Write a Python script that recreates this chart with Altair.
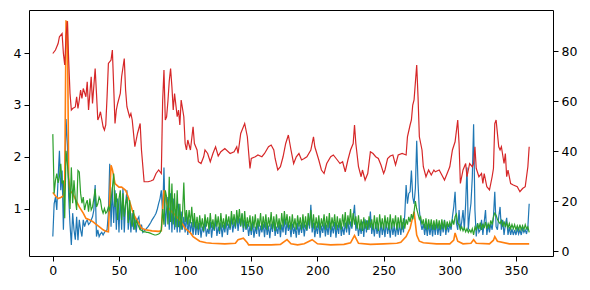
import altair as alt
import pandas as pd

# ---- data ----
x_ticks = [0, 50, 100, 150, 200, 250, 300, 350]
left_ticks = [1, 2, 3, 4]
right_ticks = [0, 20, 40, 60, 80]

blue = [
    0.47, 1.1, 1.23, 0.98, 1.6, 2.12, 1.36, 1.74, 0.6, 1.6,
    2.73, 2.25, 1.23, 0.7, 0.31, 0.92, 0.6, 0.41, 0.85, 0.4,
    0.79, 0.6, 0.47, 0.79, 0.66, 0.75, 0.79, 0.7, 0.73, 0.79,
    0.85, 0.98, 1.46, 0.47, 0.6, 0.47, 0.52, 0.55, 0.5, 0.55,
    0.58, 0.6, 0.92, 1.87, 0.66, 1.42, 0.73, 1.36, 0.6, 1.2,
    0.55, 1.3, 0.6, 1.4, 0.55, 1.1, 1.36, 0.6, 1.0, 0.55,
    0.92, 0.6, 0.85, 0.55, 0.8, 0.85, 0.6, 0.7, 0.55, 0.58,
    0.6, 0.63, 0.66, 0.7, 0.74, 0.79, 0.83, 0.87, 0.92, 1.0,
    1.11, 1.2, 1.36, 0.9, 1.8, 0.66, 1.0, 1.23, 0.6, 1.3,
    0.55, 1.2, 0.6, 1.0, 0.55, 1.1, 0.55, 0.95, 0.6, 0.85,
    0.55, 0.9, 0.5, 0.8, 0.55, 0.75, 0.5, 0.8, 0.5, 0.72,
    0.5, 0.74, 0.45, 0.66, 0.55, 0.78, 0.47, 0.62, 0.52, 0.76,
    0.45, 0.7, 0.58, 0.8, 0.48, 0.66, 0.52, 0.74, 0.46, 0.7,
    0.55, 0.78, 0.5, 0.72, 0.6, 0.84, 0.55, 0.76, 0.62, 0.88,
    0.58, 0.82, 0.66, 0.9, 0.56, 0.78, 0.6, 0.72, 0.48, 0.68,
    0.5, 0.74, 0.45, 0.66, 0.52, 0.78, 0.47, 0.68, 0.55, 0.72,
    0.46, 0.75, 0.5, 0.68, 0.44, 0.72, 0.56, 0.8, 0.48, 0.66,
    0.52, 0.74, 0.46, 0.7, 0.55, 0.82, 0.5, 0.76, 0.58, 0.7,
    0.46, 0.72, 0.52, 0.66, 0.45, 0.74, 0.5, 0.7, 0.54, 0.76,
    0.47, 0.7, 0.58, 0.8, 0.62, 1.08, 0.55, 0.74, 0.46, 0.68,
    0.52, 0.76, 0.45, 0.68, 0.54, 0.74, 0.47, 0.7, 0.5, 0.78,
    0.46, 0.68, 0.53, 0.75, 0.45, 0.7, 0.52, 0.78, 0.48, 0.66,
    0.5, 0.74, 0.55, 0.8, 0.5, 0.76, 0.62, 0.86, 1.08, 0.58,
    0.74, 0.48, 0.68, 0.52, 0.76, 0.46, 0.8, 0.55, 0.78, 0.6,
    0.95, 0.52, 0.7, 0.47, 0.75, 0.52, 0.68, 0.45, 0.74, 0.5,
    0.7, 0.46, 0.76, 0.52, 0.7, 0.45, 0.73, 0.5, 0.68, 0.47,
    0.7, 0.5, 0.72, 0.5, 0.75, 0.55, 0.9, 1.46, 1.1, 1.3,
    1.33, 1.74, 1.23, 1.1, 1.4, 2.31, 1.49, 0.98, 0.73, 0.6,
    0.72, 0.5, 0.7, 0.48, 0.72, 0.5, 0.7, 0.47, 0.72, 0.5,
    0.75, 0.5, 0.7, 0.48, 0.72, 0.55, 0.79, 0.5, 0.7, 0.55,
    0.7, 0.6, 0.85, 1.04, 1.33, 0.73, 0.6, 0.98, 0.6, 0.75,
    0.98, 0.6, 1.11, 1.8, 0.6, 0.9, 1.11, 1.6, 2.63, 0.98,
    0.47, 0.73, 0.55, 0.6, 0.79, 0.5, 0.75, 0.98, 0.5, 0.7,
    0.55, 0.72, 0.6, 0.85, 1.33, 0.66, 0.6, 0.85, 1.04, 0.6,
    0.79, 0.5, 0.7, 0.83, 0.5, 0.65, 0.5, 0.62, 0.5, 0.6,
    0.5, 0.63, 0.52, 0.6, 0.5, 0.62, 0.55, 0.6, 0.52, 0.65,
    1.1,
]

green = [
    2.44, 1.3, 1.55, 1.68, 1.5, 1.62, 1.87, 1.49, 1.55, 0.82,
    2.12, 1.87, 1.55, 1.0, 1.8, 1.11, 1.55, 1.2, 0.98, 1.74,
    1.71, 1.3, 1.11, 1.23, 0.98, 1.1, 1.17, 0.95, 1.2, 0.98,
    1.04, 1.2, 1.39, 1.04, 1.1, 1.23, 1.17, 1.0, 0.92, 1.01,
    0.92, 0.95, 1.04, 0.98, 1.17, 1.4, 1.68, 1.04, 1.3, 0.79,
    1.2, 1.36, 0.79, 1.3, 0.85, 1.1, 1.23, 0.73, 1.17, 0.8,
    0.66, 0.98, 0.6, 0.79, 0.72, 0.66, 0.6, 0.59, 0.57, 0.56,
    0.56, 0.55, 0.55, 0.54, 0.53, 0.52, 0.51, 0.5, 0.5, 0.51,
    0.52, 0.54, 0.6, 1.0, 0.7, 1.36, 1.23, 0.7, 1.62, 0.75,
    1.49, 0.7, 1.3, 0.65, 1.36, 0.65, 1.1, 0.6, 0.9, 1.51,
    0.75, 0.98, 0.7, 0.98, 0.72, 1.04, 0.65, 0.92, 0.62, 0.85,
    0.6, 0.88, 0.64, 0.82, 0.58, 0.9, 0.66, 0.84, 0.6, 0.92,
    0.64, 0.8, 0.6, 0.9, 0.66, 0.86, 0.58, 0.92, 0.64, 0.82,
    0.62, 0.9, 0.68, 0.86, 0.64, 0.96, 0.7, 0.9, 0.66, 0.98,
    0.72, 1.0, 0.68, 0.92, 0.64, 0.96, 0.62, 0.84, 0.66, 0.88,
    0.58, 0.86, 0.64, 0.9, 0.6, 0.82, 0.66, 0.92, 0.6, 0.86,
    0.64, 0.9, 0.6, 0.84, 0.66, 0.94, 0.62, 0.86, 0.58, 0.9,
    0.64, 0.82, 0.6, 0.92, 0.66, 0.96, 0.7, 0.9, 0.64, 0.86,
    0.6, 0.9, 0.64, 0.82, 0.6, 0.88, 0.66, 0.84, 0.6, 0.9,
    0.64, 0.86, 0.6, 0.92, 0.68, 0.98, 0.64, 0.9, 0.6, 0.84,
    0.64, 0.88, 0.6, 0.82, 0.66, 0.9, 0.6, 0.86, 0.64, 0.92,
    0.6, 0.84, 0.66, 0.9, 0.6, 0.86, 0.64, 0.82, 0.6, 0.9,
    0.66, 0.94, 0.62, 0.88, 0.7, 1.0, 0.66, 0.92, 0.7, 0.86,
    0.62, 0.88, 0.6, 0.8, 0.58, 0.84, 0.62, 0.78, 0.6, 0.86,
    0.64, 0.8, 0.6, 0.88, 0.62, 0.84, 0.58, 0.9, 0.64, 0.82,
    0.6, 0.88, 0.64, 0.84, 0.6, 0.9, 0.62, 0.82, 0.66, 0.88,
    0.6, 0.84, 0.64, 0.88, 0.6, 0.82, 0.62, 0.8, 0.7, 0.85,
    0.75, 0.9, 0.8, 0.95, 1.15, 1.0, 0.9, 0.8, 0.85, 0.7,
    0.8, 0.62, 0.82, 0.6, 0.8, 0.62, 0.8, 0.6, 0.78, 0.6,
    0.8, 0.62, 0.78, 0.6, 0.8, 0.62, 0.78, 0.6, 0.76, 0.65,
    0.75, 0.66, 0.8, 0.7, 0.85, 0.9, 0.72, 0.7, 0.6, 0.66,
    0.58, 0.64, 0.56, 0.62, 0.55, 0.6, 0.55, 0.62, 0.5, 0.65,
    0.6, 0.72, 0.62, 0.74, 0.6, 0.72, 0.63, 0.75, 0.62, 0.72,
    0.65, 0.78, 0.7, 0.85, 0.92, 0.88, 0.8, 0.75, 0.72, 0.78,
    0.66, 0.76, 0.65, 0.74, 0.64, 0.72, 0.62, 0.7, 0.62, 0.7,
    0.6, 0.68, 0.6, 0.7, 0.6, 0.68, 0.6, 0.7, 0.62, 0.66,
    0.55,
]

orange_x = [
    0, 2, 4, 6, 8, 9, 10, 11, 12, 13,
    15, 18, 20, 23, 25, 28, 30, 33, 35, 38,
    40, 42, 43, 44, 45, 47, 50, 52, 55, 57,
    60, 62, 65, 67, 70, 75, 80, 82, 83, 84,
    86, 88, 91, 96, 100, 104, 106, 111, 116, 120,
    130, 138, 140, 144, 147, 148, 155, 165, 172, 177,
    180, 185, 190, 196, 200, 210, 220, 225, 228, 231,
    240, 250, 260, 263, 267, 270, 273, 275, 277, 280,
    290, 300, 303, 304, 306, 310, 316, 318, 320, 330,
    333, 334, 336, 345, 355, 360,
]
orange_v = [
    1.32, 1.25, 1.2, 1.22, 1.25, 1.45, 4.61, 4.6, 1.6, 1.35,
    1.3, 1.14, 1.04, 0.92, 0.82, 0.79, 0.76, 0.7, 0.66, 0.6,
    0.57, 0.56, 1.2, 1.84, 1.76, 1.49, 1.42, 1.42, 1.36, 1.23,
    0.98, 0.85, 0.73, 0.63, 0.6, 0.58, 0.57, 0.58, 1.0, 1.36,
    1.11, 1.0, 0.92, 0.79, 0.63, 0.54, 0.47, 0.38, 0.35, 0.34,
    0.33, 0.34, 0.41, 0.44, 0.35, 0.31, 0.31, 0.31, 0.32, 0.41,
    0.33, 0.31, 0.33, 0.41, 0.33, 0.31, 0.32, 0.35, 0.49, 0.34,
    0.32, 0.33, 0.34, 0.36, 0.47, 0.63, 0.95, 0.5, 0.38, 0.35,
    0.33, 0.33, 0.4, 0.54, 0.38, 0.33, 0.34, 0.41, 0.34, 0.33,
    0.4, 0.47, 0.38, 0.33, 0.33, 0.33,
]

red_x = [
    0, 2, 4, 5, 7, 8, 9, 10, 11, 12,
    13, 14, 15, 17, 18, 19, 20, 21, 22, 23,
    25, 26, 27, 28, 29, 30, 32, 33, 34, 35,
    36, 38, 39, 40, 41, 42, 44, 45, 47, 48,
    49, 51, 52, 54, 55, 56, 57, 58, 59, 60,
    62, 64, 66, 67, 69, 72, 74, 76, 78, 80,
    82, 83, 84, 85, 86, 87, 88, 89, 90, 91,
    92, 94, 95, 96, 97, 99, 100, 101, 102, 104,
    106, 107, 109, 110, 112, 114, 115, 117, 119, 121,
    123, 125, 127, 130, 134, 137, 139, 140, 142, 145,
    147, 149, 150, 153, 155, 158, 160, 163, 165, 167,
    168, 170, 172, 174, 176, 178, 180, 182, 184, 186,
    188, 190, 192, 195, 197, 198, 201, 203, 205, 207,
    210, 212, 215, 217, 219, 221, 223, 225, 227, 228,
    229, 231, 233, 234, 236, 238, 240, 242, 244, 246,
    248, 250, 251, 253, 255, 257, 259, 261, 264, 267,
    268, 270, 271, 272, 273, 275, 276, 277, 279, 280,
    282, 284, 286, 288, 289, 292, 294, 296, 298, 300,
    302, 304, 306, 307, 308, 310, 312, 313, 315, 317,
    318, 319, 320, 322, 324, 325, 326, 328, 330, 332,
    333, 334, 335, 337, 338, 339, 341, 342, 343, 344,
    346, 348, 351, 353, 355, 357, 358, 359, 360,
]
red_v = [
    79, 80.4, 83, 85.7, 87, 79, 74.4, 86, 91.9, 76,
    63, 56.4, 57, 57.6, 61.7, 57, 60.4, 64.4, 61, 65,
    61.7, 67.7, 56.4, 63, 69.7, 59, 73, 63, 52.4, 53.7,
    55.7, 49.7, 48.4, 50.4, 61.7, 75, 76.4, 80.4, 51, 56.4,
    59, 63, 69.7, 77, 64.4, 57.7, 55.7, 53.7, 55, 52.4,
    41.7, 47, 51, 40.4, 27.7, 27.7, 28, 28.5, 31, 32.4,
    31, 60, 72.4, 52.4, 53.7, 60, 68, 73, 65.7, 56.4,
    63, 53.7, 56.4, 50.4, 60.4, 53.7, 43, 40.4, 44.4, 40.4,
    49.7, 43, 40.4, 35.7, 35, 37.7, 40.4, 39, 35.7, 39,
    41.7, 38, 39.7, 41, 39, 39.7, 41.7, 39, 47, 51,
    45.7, 33, 37, 37.7, 38.4, 37.7, 39, 41.7, 42.4, 40.4,
    37, 32.4, 33.7, 37.7, 43, 46.4, 40.4, 35, 37.7, 39,
    36.4, 37, 37.7, 40.4, 45.7, 41.7, 36.4, 32.4, 31, 35,
    37.7, 38.4, 36.4, 35, 35.7, 31.7, 36.4, 40.4, 43, 50.4,
    43, 33.7, 29.7, 32.4, 28.4, 31, 39.7, 39, 37.7, 37,
    34.4, 31, 32.4, 37, 38, 38.4, 34.4, 38.4, 39, 38.4,
    45.7, 50.4, 52.4, 58.4, 60.4, 74.4, 61.7, 45.7, 40.4, 33.7,
    29.7, 32.4, 30.4, 32.4, 31.7, 32.4, 30.4, 28.4, 31, 33.7,
    40.4, 43.7, 52.4, 43, 27, 32.4, 35, 29.7, 35, 33.7,
    35, 41.7, 33, 29.7, 31, 27, 31, 25.7, 24.4, 29.7,
    33, 51, 52.4, 41.7, 40.4, 41.7, 35, 39, 29.7, 32.4,
    27, 26.4, 25.7, 23.7, 25, 25.7, 29.7, 33.7, 41.7,
]

# ---- tables ----
df_blue = pd.DataFrame({"x": list(range(len(blue))), "v": blue})
df_green = pd.DataFrame({"x": list(range(len(green))), "v": green})
df_orange = pd.DataFrame({"x": orange_x, "v": orange_v})
df_red = pd.DataFrame({"x": red_x, "v": red_v})

FONT = "DejaVu Sans"

x_enc = alt.X(
    "x:Q",
    scale=alt.Scale(domain=[-18, 378], nice=False, zero=False),
    axis=alt.Axis(values=x_ticks, title=None, labelOverlap=False),
)
y_left = alt.Y(
    "v:Q",
    scale=alt.Scale(domain=[0.096, 4.827], nice=False, zero=False),
    axis=alt.Axis(values=left_ticks, title=None, orient="left", format="d", labelOverlap=False),
)
y_right = alt.Y(
    "v:Q",
    scale=alt.Scale(domain=[-2, 96.4], nice=False, zero=False),
    axis=alt.Axis(values=right_ticks, title=None, orient="right", format="d", labelOverlap=False),
)


def line(df, color, width, y):
    return alt.Chart(df).mark_line(color=color, strokeWidth=width, clip=True).encode(x=x_enc, y=y)


left = alt.layer(
    line(df_blue, "#1f77b4", 1.2, y_left),
    line(df_orange, "#ff7f0e", 1.6, y_left),
    line(df_green, "#2ca02c", 1.2, y_left),
)
right = line(df_red, "#d62728", 1.2, y_right)

chart = (
    alt.layer(left, right)
    .resolve_scale(y="independent")
    .properties(
        width=524,
        height=246,
        padding={"left": 21, "top": 2, "right": 29, "bottom": 26},
        autosize=alt.AutoSizeParams(type="none"),
        background="white",
    )
    .configure_view(stroke="black", strokeWidth=1)
    .configure_axis(
        domain=False,
        grid=False,
        ticks=True,
        tickColor="black",
        tickSize=5,
        tickWidth=1,
        labelColor="black",
        labelFont=FONT,
        labelFontSize=12.5,
        labelPadding=3,
    )
)

chart.save("out.html", embed_options={"renderer": "svg", "actions": False})
